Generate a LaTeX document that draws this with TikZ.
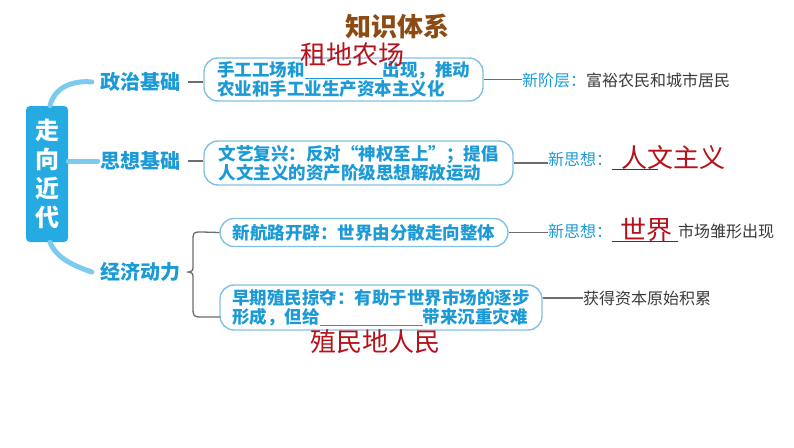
\documentclass[tikz,border=0pt]{standalone}
\usepackage{fontspec}
\setmainfont{Noto Sans CJK SC}
\definecolor{bluec}{HTML}{1B9AD6}
\definecolor{fillc}{HTML}{25AAE1}
\definecolor{curvec}{HTML}{7CCBEF}
\definecolor{boxc}{HTML}{80C2E4}
\definecolor{grayc}{HTML}{6D6D6D}
\definecolor{darkc}{HTML}{3A3A3A}
\definecolor{redc}{HTML}{B5121B}
\definecolor{brownc}{HTML}{8C4B12}
\begin{document}
\begin{tikzpicture}[x=1pt,y=-1pt,
  box/.style={draw=boxc, line width=1.4pt, rounded corners=14pt, align=left, text=bluec,
    font=\fontsize{17.5}{19}\selectfont\bfseries, inner sep=0pt},
  branch/.style={text=bluec, font=\fontsize{20}{22}\selectfont\bfseries, inner xsep=8pt, inner ysep=2pt},
  note/.style={anchor=west, inner sep=0pt, font=\fontsize{16}{18}\selectfont},
  ans/.style={text=redc, font=\fontsize{26}{28}\selectfont, inner sep=0pt},
  conn/.style={draw=grayc, line width=1.5pt},
  trunk/.style={draw=curvec, line width=5pt, line cap=round}]
\useasboundingbox (0,0) rectangle (794,447);

\node[text=brownc, font=\fontsize{26}{28}\selectfont\bfseries] (title) at (397,27) {知识体系};

\node[fill=fillc, rounded corners=4pt, minimum width=42pt, minimum height=136pt, align=center,
  text=white, font=\fontsize{24}{29}\selectfont\bfseries, inner sep=0pt] (center) at (47,174) {走\\向\\近\\代};

\node[branch] (b1) at (140,82) {政治基础};
\node[branch] (b2) at (140,161) {思想基础};
\node[branch] (b3) at (140,272) {经济动力};

\draw[trunk] ([xshift=3pt]center.north) .. controls (54,88) and (72,80) .. (b1.west);
\draw[trunk] (center.east |- b2.west) -- ([xshift=6pt]b2.west);
\draw[trunk] ([xshift=3pt]center.south) .. controls (56,258) and (74,266) .. (b3.west);

\node[box, minimum width=279pt, minimum height=43pt] (box1) at (343.5,79.5)
  {手工工场和\rule[-2pt]{78pt}{0.6pt}出现，推动\\农业和手工业生产资本主义化};
\node[box, minimum width=309pt, minimum height=44pt] (box2) at (358.5,163)
  {文艺复兴：反对“神权至上”；提倡\\人文主义的资产阶级思想解放运动};
\node[box, minimum width=288pt, minimum height=28pt] (box3) at (364,232.5)
  {新航路开辟：世界由分散走向整体};
\node[box, minimum width=322pt, minimum height=45pt] (box4) at (381,307.5)
  {早期殖民掠夺：有助于世界市场的逐步\\形成，但给\rule[-2pt]{103pt}{0.6pt}带来沉重灾难};

\draw[conn] (b1.east) -- (box1.west |- b1.east);
\draw[conn] (b2.east) -- (box2.west |- b2.east);

\coordinate (brEnd) at (220,317);
\draw[conn, line width=1.3pt] (box3.west) -- (202,232) .. controls (193,232) .. (193,242) -- (193,264)
  .. controls (193,271) .. (b3.east) .. controls (193,273) .. (193,280) -- (193,306)
  .. controls (193,317) .. (203,317) -- (brEnd);

\node[note] (s1) at (522,80) {\textcolor{bluec}{新阶层：}\textcolor{darkc}{富裕农民和城市居民}};
\node[note] (s2) at (548,161) {\textcolor{bluec}{新思想：}\textcolor{darkc}{\rule[-5pt]{46pt}{0.8pt}}};
\node[note] (s3) at (548,233) {\textcolor{bluec}{新思想：}\textcolor{darkc}{\rule[-5pt]{66pt}{0.8pt}市场雏形出现}};
\node[note, text=darkc] (s4) at (583,298) {获得资本原始积累};

\draw[conn] (box1.east) -- (box1.east -| s1.west);
\draw[conn] (box2.east) -- (box2.east -| s2.west);
\draw[conn] (box3.east) -- (box3.east -| s3.west);
\draw[conn] (box4.east |- s4.west) -- (s4.west);

\node[ans] (a1) at (352,55) {租地农场};
\node[ans] (a2) at (673,158) {人文主义};
\node[ans] (a3) at (646,230) {世界};
\node[ans] (a4) at (375,342) {殖民地人民};
\end{tikzpicture}
\end{document}
